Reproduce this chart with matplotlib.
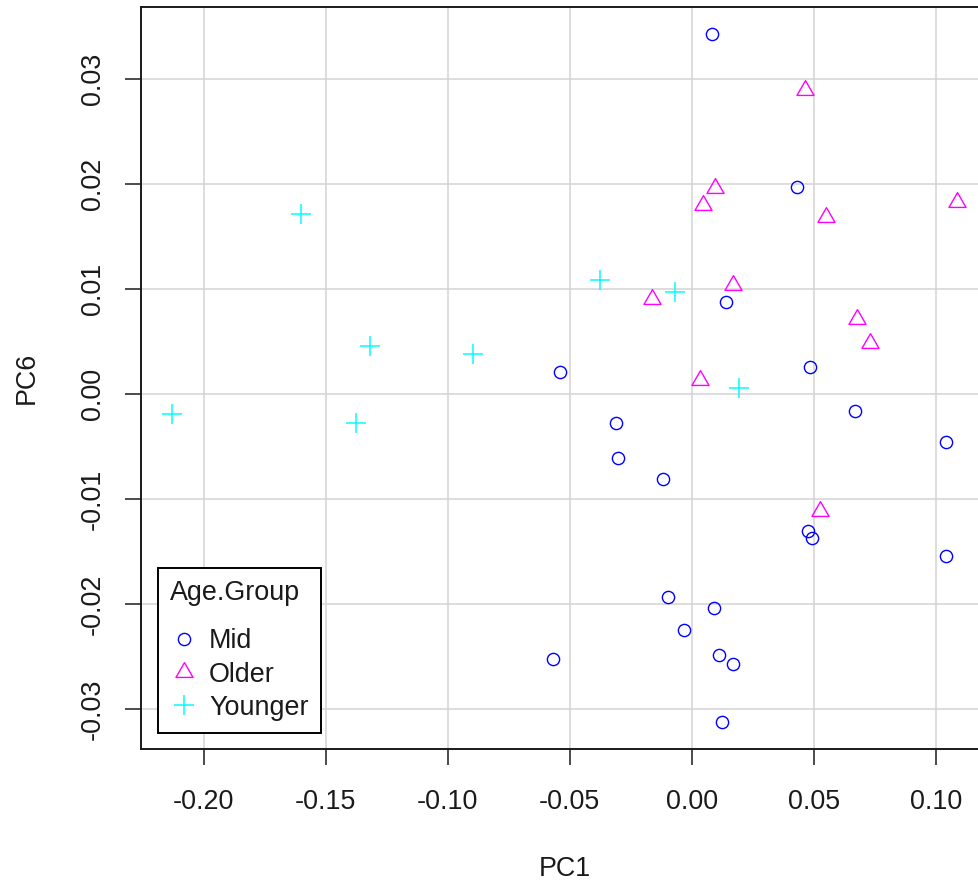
import matplotlib
matplotlib.use("Agg")
import matplotlib.pyplot as plt
from matplotlib.path import Path
import numpy as np

plt.rcParams['font.family'] = ['Liberation Sans', 'DejaVu Sans']

# PCA scores (PC1, PC6) by age group
mid_pc1 = [0.0084, 0.0433, 0.0141, 0.0484, -0.0539, 0.0669, 0.1041, -0.0311,
           -0.0303, -0.0117, 0.0476, 0.0492, 0.1041, -0.0097, 0.0089, -0.0032,
           0.0112, 0.0168, 0.0125, -0.0567]
mid_pc6 = [0.0343, 0.0197, 0.0088, 0.0026, 0.0021, -0.0016, -0.0046, -0.0028,
           -0.0061, -0.0081, -0.0130, -0.0137, -0.0154, -0.0193, -0.0204, -0.0225,
           -0.0249, -0.0257, -0.0312, -0.0252]

older_pc1 = [0.0462, 0.0097, 0.0044, 0.0548, 0.1085, 0.0168, -0.0164, 0.0678,
             0.0731, 0.0033, 0.0527]
older_pc6 = [0.0290, 0.0196, 0.0180, 0.0169, 0.0183, 0.0104, 0.0091, 0.0072,
             0.0049, 0.0013, -0.0111]

younger_pc1 = [-0.1603, -0.0378, -0.0068, -0.1319, -0.0897, -0.2128, -0.1376, 0.0193]
younger_pc6 = [0.0172, 0.0109, 0.0097, 0.0046, 0.0038, -0.0019, -0.0028, 0.0006]

x_ticks = [-0.20, -0.15, -0.10, -0.05, 0.00, 0.05, 0.10]
y_ticks = [-0.03, -0.02, -0.01, 0.00, 0.01, 0.02, 0.03]

# triangle centred on its centroid (like R's pch = 2)
tri = Path([(0, 1), (-0.866, -0.5), (0.866, -0.5), (0, 1)],
           [Path.MOVETO, Path.LINETO, Path.LINETO, Path.CLOSEPOLY])

W, H = 979, 882
fig = plt.figure(figsize=(W / 100, H / 100), dpi=100)
ax = fig.add_axes([141 / W, (H - 749) / H, 847 / W, (749 - 6.7) / H])

allx = np.array(mid_pc1 + older_pc1 + younger_pc1)
ally = np.array(mid_pc6 + older_pc6 + younger_pc6)
def padded(v):
    lo, hi = v.min(), v.max()
    d = (hi - lo) * 0.04
    return lo - d, hi + d
ax.set_xlim(*padded(allx))
ax.set_ylim(*padded(ally))

ax.set_xticks(x_ticks)
ax.set_yticks(y_ticks)
ax.set_xticklabels([f"{t:.2f}" for t in x_ticks])
ax.set_yticklabels([f"{t:.2f}" for t in y_ticks], rotation=90, va='center')
ax.grid(True, color='#d3d3d3', linewidth=1.1, zorder=0)
ax.set_axisbelow(True)

for s in ax.spines.values():
    s.set_linewidth(1.4)
    s.set_color('#1a1a1a')
ax.tick_params(axis='both', direction='out', length=11.5, width=1.1,
               color='#1a1a1a', labelsize=19.4, labelcolor='#1a1a1a')
ax.tick_params(axis='x', pad=17)
ax.tick_params(axis='y', pad=14)

h1, = ax.plot(mid_pc1, mid_pc6, linestyle='none', marker='o', markersize=8.8,
              markerfacecolor='none', markeredgecolor='#0000ff', markeredgewidth=1.0,
              label='Mid')
h2, = ax.plot(older_pc1, older_pc6, linestyle='none', marker=tri, markersize=14.2,
              markerfacecolor='none', markeredgecolor='#ff00ff', markeredgewidth=1.0,
              label='Older')
h3, = ax.plot(younger_pc1, younger_pc6, linestyle='none', marker='+', markersize=14,
              markeredgecolor='#00ffff', markeredgewidth=1.1, label='Younger')

ax.set_xlabel('PC1', fontsize=19.4, color='#1a1a1a', labelpad=30)
ax.set_ylabel('PC6', fontsize=19.4, color='#1a1a1a', labelpad=28.5)

leg = ax.legend(handles=[h1, h2, h3], title='Age.Group', loc='lower left',
                bbox_to_anchor=((158.3 - 141) / 847, (749 - 733) / (749 - 6.7)),
                borderaxespad=0, fontsize=19.4, title_fontsize=19.4,
                fancybox=False, framealpha=1, edgecolor='black',
                handlelength=1.0, handletextpad=0.43, labelspacing=0.27,
                borderpad=0.45, alignment='left', markerscale=1.0)
leg._legend_box.sep = 16
leg.get_frame().set_linewidth(1.4)
for t in leg.get_texts():
    t.set_color('#1a1a1a')
leg.get_title().set_color('#1a1a1a')

fig.savefig('out.png', dpi=100)
